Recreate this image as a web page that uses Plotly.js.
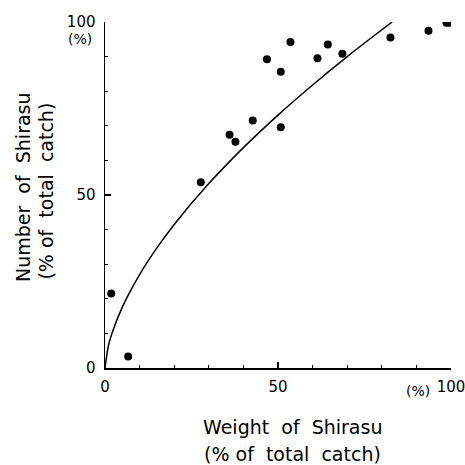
<!DOCTYPE html>
<html>
<head>
<meta charset="utf-8">
<script src="https://cdn.plot.ly/plotly-3.0.1.min.js"></script>
<style>html,body{margin:0;padding:0;background:#fff;}#chart{width:465px;height:465px;}</style>
</head>
<body>
<div id="chart"></div>
<script>
// Observed points: weight % (x) vs number % (y)
const weightPct = [1.8, 6.7, 27.7, 36.0, 37.7, 42.7, 50.8, 46.8, 50.8, 53.6, 61.4, 64.4, 68.6, 82.5, 93.5, 98.7, 99.7];
const numberPct = [21.5, 3.3, 53.7, 67.4, 65.4, 71.5, 69.6, 89.2, 85.6, 94.2, 89.5, 93.5, 90.8, 95.5, 97.5, 99.8, 99.8];

// Fitted curve
const curveX = [0, 1, 2, 5, 10, 15, 20, 30, 40, 50, 60, 70, 83];
const curveY = [0, 6.5, 10.0, 17.6, 27.0, 34.7, 41.5, 53.3, 63.7, 73.1, 81.8, 90.0, 100];

const tickVals = [0, 50, 100];
const tickText = ['0', '50', '100'];

const FONT = 'DejaVu Sans, Liberation Sans, sans-serif';

const traces = [
  {x: curveX, y: curveY, mode: 'lines', line: {color: '#000', width: 1.5, shape: 'spline'}, hoverinfo: 'skip'},
  {x: weightPct, y: numberPct, mode: 'markers', marker: {color: '#000', size: 8}}
];

const axisCommon = {
  range: [0, 100],
  showgrid: false,
  zeroline: false,
  showline: true,
  linecolor: '#000',
  linewidth: 1.5,
  ticks: 'inside',
  ticklen: 6,
  tickwidth: 1.2,
  tickcolor: '#000',
  tickmode: 'array',
  tickvals: tickVals,
  ticktext: tickText,
  tickfont: {family: FONT, size: 15, color: '#000'},
  ticklabeloverflow: 'allow',
  minor: {tickmode: 'linear', tick0: 0, dtick: 10, ticks: 'inside', ticklen: 3, tickwidth: 1, tickcolor: '#000', showgrid: false}
};

const layout = {
  width: 465, height: 465,
  margin: {l: 105, r: 14, t: 22, b: 97},
  paper_bgcolor: '#fff', plot_bgcolor: '#fff',
  showlegend: false,
  xaxis: Object.assign({}, axisCommon, {ticklabelstandoff: 4}),
  yaxis: Object.assign({}, axisCommon, {ticklabelstandoff: 5}),
  annotations: [
    {text: 'Weight  of  Shirasu', xref: 'paper', yref: 'paper', x: 0.543, y: -0.1705, showarrow: false, xanchor: 'center', yanchor: 'middle', font: {family: FONT, size: 19, color: '#000'}},
    {text: '(% of  total  catch)', xref: 'paper', yref: 'paper', x: 0.543, y: -0.249, showarrow: false, xanchor: 'center', yanchor: 'middle', font: {family: FONT, size: 19, color: '#000'}},
    {text: 'Number  of  Shirasu', xref: 'paper', yref: 'paper', x: -0.237, y: 0.523, textangle: -90, showarrow: false, xanchor: 'center', yanchor: 'middle', font: {family: FONT, size: 19, color: '#000'}},
    {text: '(% of  total  catch)', xref: 'paper', yref: 'paper', x: -0.1705, y: 0.51, textangle: -90, showarrow: false, xanchor: 'center', yanchor: 'middle', font: {family: FONT, size: 19, color: '#000'}},
    {text: '(%)', xref: 'paper', yref: 'paper', x: -0.072, y: 0.952, showarrow: false, xanchor: 'center', yanchor: 'middle', font: {family: FONT, size: 14, color: '#000'}},
    {text: '(%)', xref: 'paper', yref: 'paper', x: 0.905, y: -0.066, showarrow: false, xanchor: 'center', yanchor: 'middle', font: {family: FONT, size: 14, color: '#000'}}
  ]
};

Plotly.newPlot('chart', traces, layout, {staticPlot: true, displayModeBar: false});
</script>
</body>
</html>
